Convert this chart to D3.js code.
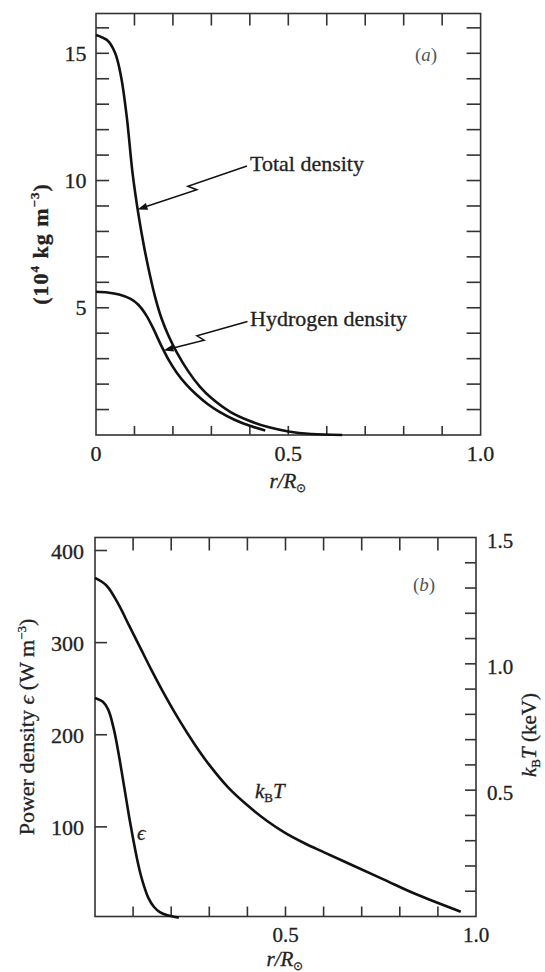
<!DOCTYPE html>
<html><head><meta charset="utf-8">
<script src="https://cdn.jsdelivr.net/npm/d3@7"></script>
<style>
body{margin:0;background:#fff}
svg{display:block}
text{font-family:"Liberation Serif","Times New Roman",serif;fill:#222;stroke:#222;stroke-width:0.3px}
</style>
</head><body>
<svg id="c" width="545" height="972"></svg>
<script>
// ---------- data ----------
const rTotal          = [0, 0.03, 0.05, 0.065, 0.08, 0.095, 0.11, 0.125, 0.14, 0.155, 0.17, 0.19, 0.21, 0.24, 0.27, 0.3, 0.35, 0.4, 0.45, 0.5, 0.56, 0.64];
const totalDensity    = [15.72, 15.5, 15.0, 14.1, 12.5, 10.3, 8.7, 7.4, 6.3, 5.35, 4.6, 3.85, 3.25, 2.5, 1.9, 1.45, 0.9, 0.55, 0.3, 0.14, 0.04, 0.0];
const rHydrogen       = [0, 0.03, 0.06, 0.09, 0.11, 0.13, 0.15, 0.17, 0.19, 0.21, 0.235, 0.26, 0.29, 0.32, 0.36, 0.4, 0.44];
const hydrogenDensity = [5.63, 5.6, 5.52, 5.35, 5.12, 4.72, 4.15, 3.5, 2.92, 2.45, 1.98, 1.6, 1.22, 0.92, 0.6, 0.36, 0.18];
const rTemp           = [0, 0.03, 0.06, 0.09, 0.12, 0.15, 0.18, 0.22, 0.26, 0.30, 0.35, 0.40, 0.45, 0.50, 0.55, 0.60, 0.68, 0.76, 0.84, 0.96];
const kBT             = [1.34, 1.31, 1.24, 1.15, 1.06, 0.97, 0.885, 0.78, 0.685, 0.6, 0.51, 0.44, 0.38, 0.33, 0.29, 0.255, 0.2, 0.145, 0.09, 0.019];
const rEps            = [0, 0.02, 0.035, 0.05, 0.06, 0.07, 0.08, 0.09, 0.10, 0.11, 0.12, 0.13, 0.14, 0.155, 0.17, 0.19, 0.22];
const epsPower        = [240, 236, 227, 205, 184, 160, 135, 110, 87, 66, 48, 34, 23, 13, 7.5, 4, 1.5];

const aYTickLabels = [5, 10, 15];
const aXTickLabels = [0, 0.5, 1.0];
const bLeftTickLabels = [100, 200, 300, 400];
const bRightTickLabels = [0.5, 1.0, 1.5];
const bXTickLabels = [0.5, 1.0];

// ---------- setup ----------
const svg = d3.select("#c");
const INK = "#111", FRAME = "#333";
const fmt = v => v === 0 ? "0" : d3.format(".1f")(v);
const CURVE = d3.curveCatmullRom.alpha(0.5);

// Panel (a) scales
const xA = d3.scaleLinear([0, 1], [96, 480.6]);
const yA = d3.scaleLinear([0, 15], [435, 53.3]);
const A = {l: 96, r: 480.6, t: 13.5, b: 435};

// Panel (b) scales
const xB = d3.scaleLinear([0, 1], [95, 476]);
const yBL = d3.scaleLinear([0, 400], [919, 550.5]);
const yBR = d3.scaleLinear([0, 1.5], [916.5, 537.5]);
const B = {l: 95, r: 476, t: 537.5, b: 916.5};

function frame(P) {
  svg.append("rect").attr("x", P.l).attr("y", P.t).attr("width", P.r - P.l).attr("height", P.b - P.t)
    .attr("fill", "none").attr("stroke", FRAME).attr("stroke-width", 1.6);
}
function ticks(vals, fn) {
  svg.append("g").selectAll("line").data(vals).join("line").each(function(v){
    const c = fn(v); d3.select(this).attr("x1", c[0]).attr("y1", c[1]).attr("x2", c[2]).attr("y2", c[3]);
  }).attr("stroke", FRAME).attr("stroke-width", 1.6);
}
const xt = d3.range(1, 10).map(i => i / 10);

// ---------- Panel (a) ----------
frame(A);
const aYt = d3.range(1, 17);
ticks(aYt, v => [A.l, yA(v), A.l + 13, yA(v)]);
ticks(aYt, v => [A.r, yA(v), A.r - 14, yA(v)]);
ticks(xt, v => [xA(v), A.t, xA(v), A.t + 12]);
ticks(xt, v => [xA(v), A.b, xA(v), A.b - 9]);

svg.append("g").selectAll("text").data(aYTickLabels).join("text")
  .attr("x", 86.5).attr("y", v => yA(v) + 7.5).attr("text-anchor", "end")
  .attr("font-size", 22).text(v => v);
svg.append("g").selectAll("text").data(aXTickLabels).join("text")
  .attr("x", v => xA(v)).attr("y", 461).attr("text-anchor", "middle")
  .attr("font-size", 22).text(fmt);

const lineA = (xs, ys) => d3.line().x((d, i) => xA(xs[i])).y(d => yA(d)).curve(CURVE)(ys);
svg.append("path").attr("d", lineA(rTotal, totalDensity)).attr("fill", "none").attr("stroke", INK).attr("stroke-width", 2.6);
svg.append("path").attr("d", lineA(rHydrogen, hydrogenDensity)).attr("fill", "none").attr("stroke", INK).attr("stroke-width", 2.6);

// x title
function xTitle(x, y) {
  const t = svg.append("text").attr("x", x).attr("y", y).attr("text-anchor", "middle").attr("font-size", 21);
  t.append("tspan").attr("font-style", "italic").text("r/R");
  t.append("tspan").attr("font-size", 12).attr("dy", 4).text("⊙");
}
xTitle(288, 488);

// y title (a)
{
  const t = svg.append("text").attr("transform", "translate(48,244) rotate(-90)")
    .attr("text-anchor", "middle").attr("font-size", 22).attr("font-weight", "bold")
    .attr("letter-spacing", 1);
  t.append("tspan").text("(10");
  t.append("tspan").attr("font-size", 13).attr("dy", -9).text("4");
  t.append("tspan").attr("dy", 9).text(" kg m");
  t.append("tspan").attr("font-size", 13).attr("dy", -9).text("−3");
  t.append("tspan").attr("dy", 9).text(")");
}
// panel tag (a)
{
  const t = svg.append("text").attr("x", 426).attr("y", 61).attr("text-anchor", "middle").attr("font-size", 19)
    .style("stroke-width", 0);
  t.append("tspan").text("(").style("fill", "#555");
  t.append("tspan").attr("font-style", "italic").text("a").style("fill", "#555");
  t.append("tspan").text(")").style("fill", "#555");
}

// pointers
function pointer(S, T, tz) {
  const dx = T[0] - S[0], dy = T[1] - S[1], L = Math.hypot(dx, dy), ux = dx / L, uy = dy / L;
  const nx = -uy, ny = ux;
  const pt = t => [S[0] + ux * t * L, S[1] + uy * t * L];
  const m1 = pt(tz + 0.03), m2 = pt(tz - 0.03);
  const Apt = [m1[0] + nx * 3, m1[1] + ny * 3];
  const Bpt = [m2[0] - nx * 3.5, m2[1] - ny * 3.5];
  const dx2 = T[0] - Bpt[0], dy2 = T[1] - Bpt[1], L2 = Math.hypot(dx2, dy2);
  const vx = dx2 / L2, vy = dy2 / L2;
  const base = [T[0] - vx * 10, T[1] - vy * 10];
  svg.append("path").attr("d", d3.line()([S, Apt, Bpt, base]))
    .attr("fill", "none").attr("stroke", INK).attr("stroke-width", 1.5);
  svg.append("path").attr("d", d3.line()([T, [base[0] - vy * 3.5, base[1] + vx * 3.5], [base[0] + vy * 3.5, base[1] - vx * 3.5]]) + "Z")
    .attr("fill", INK);
}
pointer([247, 166], [137.5, 209.5], 0.5);
pointer([247.5, 321.5], [163.5, 350.5], 0.56);

svg.append("text").attr("x", 250).attr("y", 171).attr("font-size", 22).text("Total density");
svg.append("text").attr("x", 250).attr("y", 326).attr("font-size", 22).text("Hydrogen density");

// ---------- Panel (b) ----------
frame(B);
ticks(bLeftTickLabels, v => [B.l, yBL(v), B.l + 12, yBL(v)]);
const bRt = d3.range(1, 15).map(i => i / 10);
ticks(bRt, v => [B.r, yBR(v), B.r - 11, yBR(v)]);
ticks(xt, v => [xB(v), B.t, xB(v), B.t + 13]);
ticks(xt, v => [xB(v), B.b, xB(v), B.b - 10]);

svg.append("g").selectAll("text").data(bLeftTickLabels).join("text")
  .attr("x", 84).attr("y", v => yBL(v) + 8).attr("text-anchor", "end")
  .attr("font-size", 22).text(v => v);
svg.append("g").selectAll("text").data(bRightTickLabels).join("text")
  .attr("x", 487).attr("y", v => yBR(v) + 10)
  .attr("font-size", 21).text(fmt);
svg.append("g").selectAll("text").data(bXTickLabels).join("text")
  .attr("x", v => xB(v)).attr("y", 942).attr("text-anchor", "middle")
  .attr("font-size", 21).text(fmt);

svg.append("path").attr("d", d3.line().x((d, i) => xB(rTemp[i])).y(d => yBR(d)).curve(CURVE)(kBT))
  .attr("fill", "none").attr("stroke", INK).attr("stroke-width", 2.6);
svg.append("path").attr("d", d3.line().x((d, i) => xB(rEps[i])).y(d => yBL(d)).curve(CURVE)(epsPower))
  .attr("fill", "none").attr("stroke", INK).attr("stroke-width", 2.6);

xTitle(285, 966);

// left y title (b)
{
  const t = svg.append("text").attr("transform", "translate(34,727) rotate(-90)")
    .attr("text-anchor", "middle").attr("font-size", 22);
  t.append("tspan").text("Power density ");
  t.append("tspan").attr("font-style", "italic").text("ϵ");
  t.append("tspan").text(" (W m");
  t.append("tspan").attr("font-size", 13).attr("dy", -8).text("−3");
  t.append("tspan").attr("dy", 8).text(")");
}
// right y title (b)
{
  const t = svg.append("text").attr("transform", "translate(536,735) rotate(-90)")
    .attr("text-anchor", "middle").attr("font-size", 21);
  t.append("tspan").attr("font-style", "italic").text("k");
  t.append("tspan").attr("font-size", 13).attr("dy", 4).text("B");
  t.append("tspan").attr("font-style", "italic").attr("dy", -4).text("T");
  t.append("tspan").text(" (keV)");
}
// panel tag (b)
{
  const t = svg.append("text").attr("x", 424).attr("y", 591).attr("text-anchor", "middle").attr("font-size", 19)
    .style("stroke-width", 0);
  t.append("tspan").text("(").style("fill", "#555");
  t.append("tspan").attr("font-style", "italic").text("b").style("fill", "#555");
  t.append("tspan").text(")").style("fill", "#555");
}
// curve labels (b)
{
  const t = svg.append("text").attr("x", 255).attr("y", 798).attr("font-size", 21);
  t.append("tspan").attr("font-style", "italic").text("k");
  t.append("tspan").attr("font-size", 13).attr("dy", 4).text("B");
  t.append("tspan").attr("font-style", "italic").attr("dy", -4).text("T");
}
svg.append("text").attr("x", 137).attr("y", 840).attr("font-size", 21).attr("font-style", "italic").text("ϵ");
</script>
</body></html>
